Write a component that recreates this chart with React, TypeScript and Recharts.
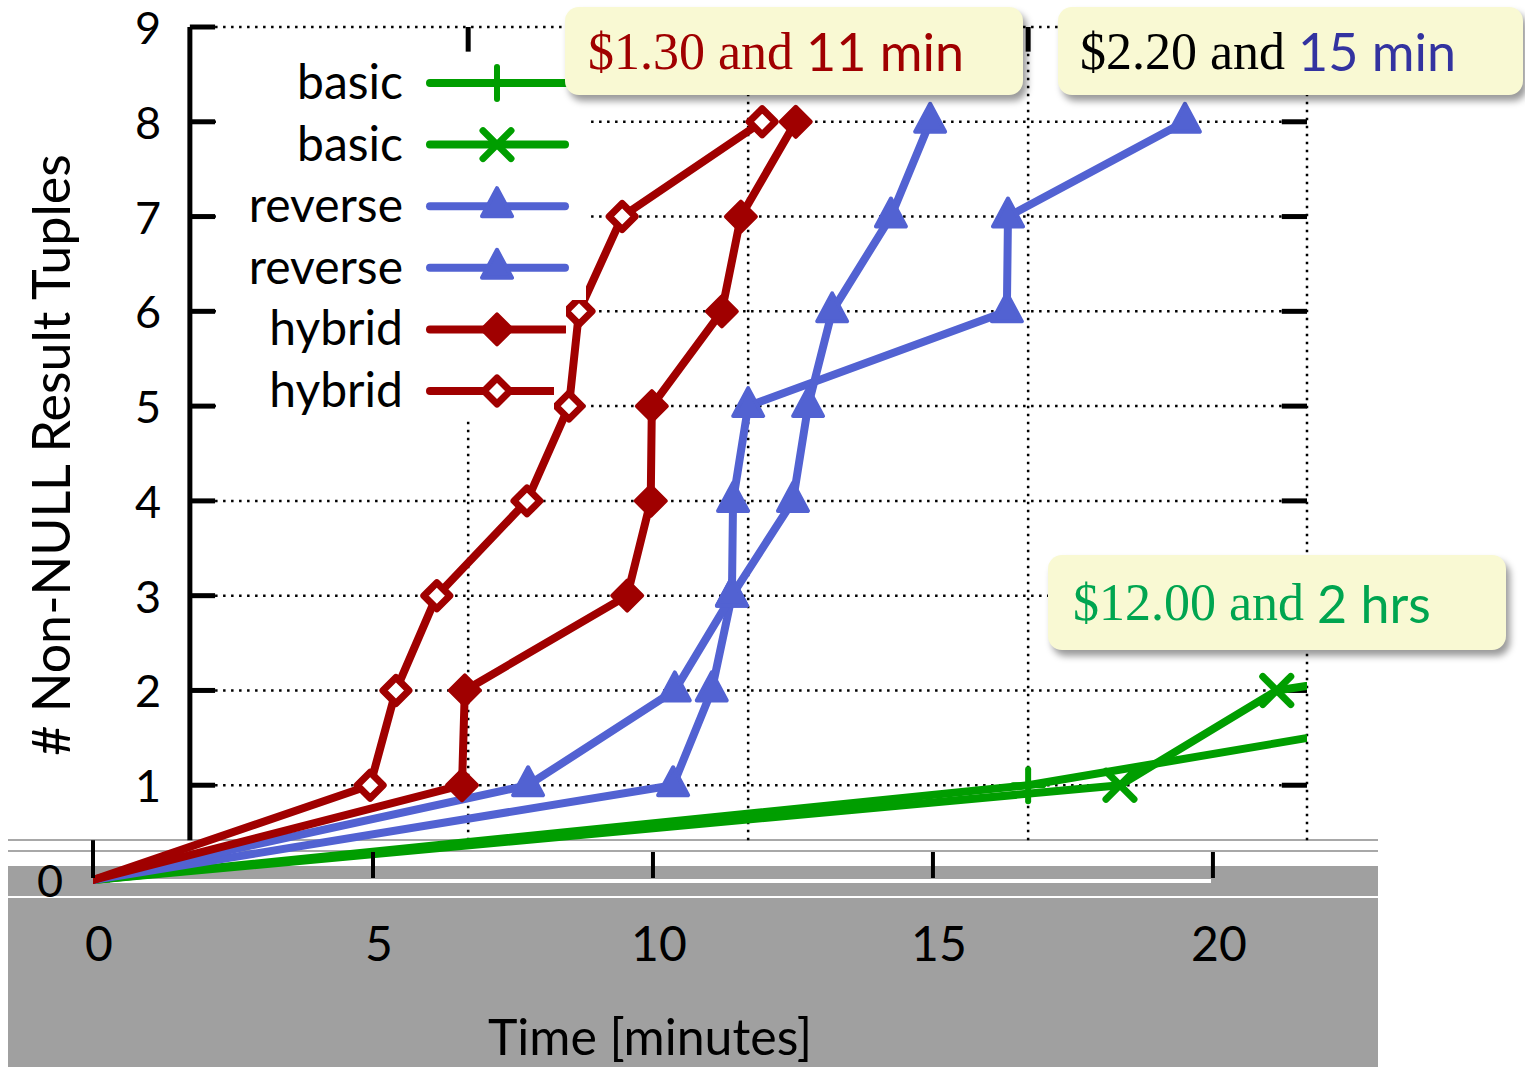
import React from "react";
import { LineChart, Line, XAxis, YAxis, ReferenceLine, Legend } from "recharts";

// time (minutes) at which each count of non-NULL tuples was reached
const tupleCounts = [0, 1, 2, 3, 4, 5, 6, 7, 8];
const basicPlusTime = [0, 16.7, 26.7];
const basicPlusCount = [0, 1, 2];
const basicCrossTime = [0, 18.34, 21.14, 32.3];
const basicCrossCount = [0, 1, 2, 3];
const reverseATime = [0, 10.36, 11.05, 11.41, 11.43, 11.7, 16.32, 16.34, 19.5];
const reverseBTime = [0, 7.77, 10.39, 11.41, 12.5, 12.77, 13.2, 14.25, 14.95];
const hybridFilledTime = [0, 6.59, 6.64, 9.54, 9.96, 9.98, 11.23, 11.57, 12.55];
const hybridOpenTime = [0, 4.95, 5.41, 6.14, 7.75, 8.5, 8.68, 9.45, 11.95];

const xTicks = [0, 5, 10, 15, 20];
const yTicks = [0, 1, 2, 3, 4, 5, 6, 7, 8, 9];
const X_MAX = 21.68;
const AXIS_X = 1.73; // upper frame is drawn shifted right of the time origin
const gridX = [6.7, 11.7, 16.7];

const GREEN = "#009e00";
const BLUE = "#5262d2";
const RED = "#a00000";
const SANS = "Lato, 'Open Sans', sans-serif";
const SERIF = "'Liberation Serif', 'DejaVu Serif', serif";

const toPoints = (times: number[], counts: number[]) => times.map((t, i) => ({ t, n: counts[i] }));

const series = [
  { key: "basic1", name: "basic", color: GREEN, marker: "plus", data: toPoints(basicPlusTime, basicPlusCount) },
  { key: "basic2", name: "basic", color: GREEN, marker: "cross", data: toPoints(basicCrossTime, basicCrossCount) },
  { key: "reverse1", name: "reverse", color: BLUE, marker: "tri", data: toPoints(reverseATime, tupleCounts) },
  { key: "reverse2", name: "reverse", color: BLUE, marker: "tri", data: toPoints(reverseBTime, tupleCounts) },
  { key: "hybrid1", name: "hybrid", color: RED, marker: "diamond", data: toPoints(hybridFilledTime, tupleCounts) },
  { key: "hybrid2", name: "hybrid", color: RED, marker: "openDiamond", data: toPoints(hybridOpenTime, tupleCounts) },
];

function marker(kind: string, cx: number, cy: number, color: string, key?: string) {
  if (kind === "plus") {
    return (
      <g key={key} stroke={color} strokeWidth={6} strokeLinecap="round">
        <line x1={cx - 15} y1={cy} x2={cx + 15} y2={cy} />
        <line x1={cx} y1={cy - 16} x2={cx} y2={cy + 16} />
      </g>
    );
  }
  if (kind === "cross") {
    return (
      <g key={key} stroke={color} strokeWidth={7} strokeLinecap="round">
        <line x1={cx - 14} y1={cy - 14} x2={cx + 14} y2={cy + 14} />
        <line x1={cx - 14} y1={cy + 14} x2={cx + 14} y2={cy - 14} />
      </g>
    );
  }
  if (kind === "tri") {
    return (
      <polygon key={key} points={`${cx},${cy - 18} ${cx + 15},${cy + 10} ${cx - 15},${cy + 10}`}
        fill={color} stroke={color} strokeWidth={4} strokeLinejoin="round" />
    );
  }
  const open = kind === "openDiamond";
  const r = open ? 13 : 15;
  return (
    <polygon key={key} points={`${cx},${cy - r} ${cx + r},${cy} ${cx},${cy + r} ${cx - r},${cy}`}
      fill={open ? "#fff" : color} stroke={color} strokeWidth={open ? 7 : 4} strokeLinejoin="round" />
  );
}

const LegendBox = () => (
  <svg width={370} height={368}>
    {series.map((s, i) => {
      const cy = 31 + i * 61.6;
      return (
        <g key={s.key}>
          <text x={187} y={cy + 16} textAnchor="end" fontFamily={SANS} fontSize={48} fill="#000">{s.name}</text>
          <line x1={214} x2={349} y1={cy} y2={cy} stroke={s.color} strokeWidth={8} strokeLinecap="round" />
          {marker(s.marker, 281, cy, s.color)}
        </g>
      );
    })}
  </svg>
);

const XTick = (props: any) => {
  const { x, y, payload } = props;
  return (
    <g>
      <line x1={x} x2={x} y1={y - 28} y2={y - 2} stroke="#000" strokeWidth={4} />
      <text x={x + 6} y={y + 81} textAnchor="middle" fontFamily={SANS} fontSize={48} fill="#000">{payload.value}</text>
    </g>
  );
};

const YTick = (props: any) => {
  const { x, y, payload } = props;
  return (
    <text x={payload.value === 0 ? x - 43 : x + 55} y={y + 17} textAnchor="middle" fontFamily={SANS} fontSize={45} fill="#000">
      {payload.value}
    </text>
  );
};

const dotted = { stroke: "#000", strokeWidth: 2.5, strokeDasharray: "2.5 5.5" };
const solid = { stroke: "#000", strokeWidth: 5 };

const boxStyle: React.CSSProperties = {
  position: "absolute",
  background: "#f9f9d3",
  borderRadius: 14,
  boxShadow: "4px 6px 7px rgba(0,0,0,0.4)",
  display: "flex",
  alignItems: "center",
  fontSize: 52,
  whiteSpace: "nowrap",
  boxSizing: "border-box",
};

const band = (top: number, height: number, left: number, width: number, color: string): React.CSSProperties => ({
  position: "absolute", top, height, left, width, background: color,
});

export default function App() {
  return (
    <div style={{ position: "absolute", left: 0, top: 0, width: 1525, height: 1067, background: "#fff", overflow: "hidden" }}>
      <div style={band(839, 2, 8, 1370, "#a8a8a8")} />
      <div style={band(850, 2, 8, 1370, "#a8a8a8")} />
      <div style={band(866, 201, 8, 1370, "#a0a0a0")} />
      <div style={band(879, 4, 110, 1101, "#fff")} />
      <div style={band(896, 2, 8, 1370, "#fff")} />

      <div style={{ position: "absolute", left: 0, top: 0 }}>
        <LineChart width={1525} height={1067} margin={{ top: 27, right: 218, bottom: 127, left: 0 }}>
          <XAxis type="number" dataKey="t" domain={[0, X_MAX]} allowDataOverflow ticks={xTicks} interval={0}
            axisLine={false} tickLine={false} tickSize={0} tickMargin={0} height={60} tick={<XTick />}
            label={() => (
              <text x={650} y={1055} textAnchor="middle" fontFamily={SANS} fontSize={50} fill="#000">Time [minutes]</text>
            )} />
          <YAxis type="number" domain={[0, 9]} ticks={yTicks} interval={0} width={93}
            axisLine={false} tickLine={false} tickSize={0} tickMargin={0} tick={<YTick />}
            label={() => (
              <text transform="translate(70,455) rotate(-90)" textAnchor="middle" fontFamily={SANS} fontSize={52} fill="#000">
                # Non-NULL Result Tuples
              </text>
            )} />

          {yTicks.filter((v) => v > 0).map((v) => (
            <ReferenceLine key={`gy${v}`} segment={[{ x: AXIS_X + 0.45, y: v }, { x: X_MAX, y: v }]} {...dotted} />
          ))}
          {gridX.map((g) => (
            <ReferenceLine key={`gx${g}`} segment={[{ x: g, y: 0.42 }, { x: g, y: 9 }]} {...dotted} />
          ))}
          <ReferenceLine segment={[{ x: X_MAX, y: 0.42 }, { x: X_MAX, y: 9 }]} {...dotted} />
          {gridX.map((g) => (
            <ReferenceLine key={`tt${g}`} segment={[{ x: g, y: 9 }, { x: g, y: 8.74 }]} {...solid} />
          ))}
          {yTicks.filter((v) => v > 0).map((v) => (
            <ReferenceLine key={`lt${v}`} segment={[{ x: AXIS_X, y: v }, { x: AXIS_X + 0.45, y: v }]} {...solid} />
          ))}
          {yTicks.filter((v) => v > 0 && v < 9).map((v) => (
            <ReferenceLine key={`rt${v}`} segment={[{ x: X_MAX - 0.45, y: v }, { x: X_MAX, y: v }]} {...solid} />
          ))}
          <ReferenceLine segment={[{ x: AXIS_X, y: 0.42 }, { x: AXIS_X, y: 9 }]} {...solid} />
          <ReferenceLine segment={[{ x: 0, y: 0.08 }, { x: 0, y: 0.42 }]} stroke="#000" strokeWidth={4} />

          {series.map((s) => (
            <Line key={s.key} data={s.data} dataKey="n" name={s.name} type="linear" stroke={s.color}
              strokeWidth={8} strokeLinejoin="round" strokeLinecap="round" isAnimationActive={false}
              dot={(p: any) =>
                p.payload.n === 0 ? <g key={`${s.key}-${p.index}`} /> : marker(s.marker, p.cx, p.cy, s.color, `${s.key}-${p.index}`)
              }
              activeDot={false} />
          ))}

          <Legend layout="vertical" align="center" verticalAlign="middle" content={() => <LegendBox />}
            wrapperStyle={{
              left: 216, top: 52, width: 370, height: 368, background: "#fff",
              clipPath: "polygon(0 0, 100% 0, 100% 248px, 350px 248px, 350px 325px, 338px 325px, 338px 100%, 0 100%)",
            }} />
        </LineChart>
      </div>

      <div style={{ ...boxStyle, left: 565, top: 7, width: 458, height: 88, paddingLeft: 23, color: RED }}>
        <span style={{ fontFamily: SERIF }}>$1.30 and&nbsp;</span>
        <span style={{ fontFamily: SANS }}>11 min</span>
      </div>
      <div style={{ ...boxStyle, left: 1058, top: 7, width: 465, height: 88, paddingLeft: 22 }}>
        <span style={{ fontFamily: SERIF, color: "#000" }}>$2.20 and&nbsp;</span>
        <span style={{ fontFamily: SANS, color: "#3333a0" }}>15 min</span>
      </div>
      <div style={{ ...boxStyle, left: 1048, top: 555, width: 458, height: 95, paddingLeft: 25, color: "#00a550" }}>
        <span style={{ fontFamily: SERIF }}>$12.00 and&nbsp;</span>
        <span style={{ fontFamily: SANS }}>2 hrs</span>
      </div>
    </div>
  );
}
